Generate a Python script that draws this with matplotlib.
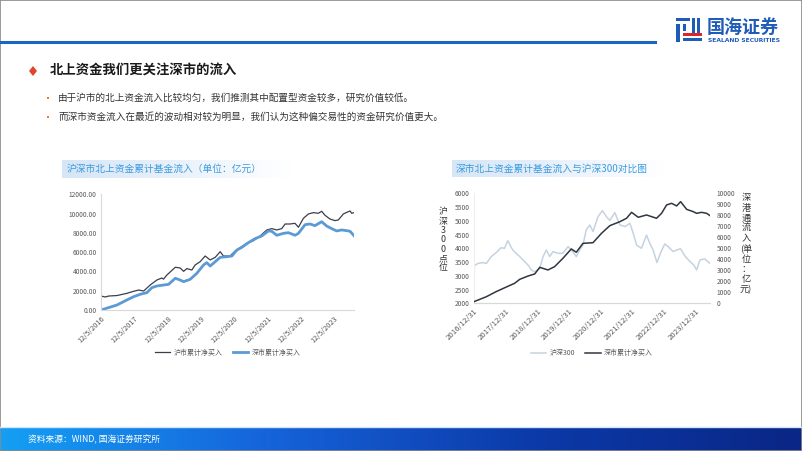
import numpy as np
import pandas as pd
import matplotlib
matplotlib.use("Agg")
import matplotlib.pyplot as plt
from matplotlib.patches import Rectangle, Polygon
from matplotlib.lines import Line2D
from matplotlib.colors import LinearSegmentedColormap

plt.rcParams['font.family'] = ['Noto Sans CJK SC', 'DejaVu Sans']

# ---------------- data: left chart ----------------
sh_dates = ["2016-12-05", "2017-01-20", "2017-02-28", "2017-05-30", "2017-09-15", "2017-11-28",
            "2018-01-22", "2018-03-18", "2018-05-30", "2018-08-10", "2018-10-04", "2018-10-22",
            "2018-11-28", "2019-02-28", "2019-04-23", "2019-05-30", "2019-07-05", "2019-08-29",
            "2019-10-04", "2019-11-28", "2020-01-22", "2020-03-17", "2020-05-11", "2020-07-05",
            "2020-08-10", "2020-10-22", "2020-12-16", "2021-02-09", "2021-04-23", "2021-07-05",
            "2021-09-16", "2021-11-28", "2022-01-22", "2022-03-17", "2022-05-11", "2022-06-17",
            "2022-08-10", "2022-10-04", "2022-11-10", "2023-01-04", "2023-02-28", "2023-04-23",
            "2023-06-17", "2023-07-23", "2023-08-29", "2023-10-22", "2023-12-16", "2024-01-22",
            "2024-03-17", "2024-05-11", "2024-05-30", "2024-06-17", "2024-07-12"]
sh_values = [1450, 1350, 1450, 1500, 1730, 1940, 2070, 1970, 2600, 3110, 3320, 3200,
             3630, 4430, 4360, 4010, 4290, 4150, 4670, 5010, 5600, 5190, 5460, 6050,
             5600, 5600, 6120, 6470, 6920, 7190, 7680, 8300, 8440, 8300, 8440, 8920,
             8920, 8990, 8580, 9510, 9960, 10100, 10030, 10240, 9820, 9440, 9270, 9340,
             9960, 10200, 10270, 10030, 10100]

sz_dates = ["2016-12-05", "2017-05-30", "2017-09-15", "2017-11-28", "2018-02-09", "2018-04-23",
            "2018-06-17", "2018-08-10", "2018-10-22", "2018-12-16", "2019-02-28", "2019-04-23",
            "2019-05-30", "2019-08-10", "2019-10-22", "2020-01-04", "2020-02-09", "2020-03-17",
            "2020-05-11", "2020-07-05", "2020-09-16", "2020-11-10", "2021-01-04", "2021-02-28",
            "2021-05-11", "2021-07-23", "2021-10-04", "2021-12-16", "2022-01-22", "2022-03-17",
            "2022-05-30", "2022-07-23", "2022-10-04", "2022-11-10", "2023-01-22", "2023-03-17",
            "2023-05-11", "2023-07-23", "2023-09-16", "2023-11-10", "2024-01-04", "2024-02-28",
            "2024-04-23", "2024-05-30", "2024-07-12"]
sz_values = [0, 520, 1040, 1380, 1630, 1800, 2320, 2490, 2590, 2660, 3290, 3110,
             2940, 3180, 3800, 4670, 4910, 4560, 5010, 5460, 5530, 5600, 6220, 6500,
             6990, 7400, 7680, 8200, 8160, 7750, 7950, 8020, 7750, 7950, 8850, 8920,
             8750, 9160, 8710, 8440, 8200, 8300, 8230, 8160, 7710]

left_ticks = ["2016-12-05", "2017-12-05", "2018-12-05", "2019-12-05", "2020-12-05",
              "2021-12-05", "2022-12-05", "2023-12-05"]
left_tick_labels = ["12/5/2016", "12/5/2017", "12/5/2018", "12/5/2019", "12/5/2020",
                    "12/5/2021", "12/5/2022", "12/5/2023"]
left_yticks = [0, 2000, 4000, 6000, 8000, 10000, 12000]

# ---------------- data: right chart ----------------
szflow_dates = ["2016-12-31", "2017-05-23", "2017-09-13", "2017-12-31", "2018-04-15", "2018-06-13",
                "2018-09-17", "2018-12-03", "2019-01-31", "2019-05-05", "2019-07-21", "2019-10-25",
                "2020-01-30", "2020-03-28", "2020-06-13", "2020-10-07", "2021-01-13", "2021-04-20",
                "2021-08-14", "2021-10-30", "2021-12-27", "2022-03-14", "2022-06-18", "2022-10-12",
                "2022-12-09", "2023-02-05", "2023-04-04", "2023-06-01", "2023-07-17", "2023-09-25",
                "2023-12-11", "2024-01-18", "2024-03-16", "2024-05-13", "2024-06-21"]
szflow_values = [150, 600, 1060, 1450, 1820, 2180, 2480, 2670, 3270, 3030, 3330, 4090,
                 4940, 4640, 5450, 5510, 6360, 7060, 7420, 7730, 8270, 7820, 8030, 7730,
                 8180, 8940, 9090, 8850, 9240, 8540, 8330, 8180, 8270, 8180, 7970]

hs300_dates = ["2016-12-31", "2017-02-15", "2017-04-12", "2017-05-23", "2017-07-19", "2017-09-13",
               "2017-11-08", "2017-12-19", "2018-01-25", "2018-03-23", "2018-04-30", "2018-06-06",
               "2018-07-20", "2018-09-17", "2018-10-25", "2018-12-03", "2019-01-31", "2019-03-10",
               "2019-04-17", "2019-05-25", "2019-07-02", "2019-08-28", "2019-10-25", "2019-12-24",
               "2020-01-30", "2020-03-28", "2020-05-06", "2020-06-13", "2020-07-21", "2020-08-31",
               "2020-10-07", "2020-12-04", "2021-01-24", "2021-03-11", "2021-04-20", "2021-06-16",
               "2021-08-14", "2021-10-11", "2021-12-07", "2022-01-15", "2022-02-23", "2022-04-20",
               "2022-06-18", "2022-07-26", "2022-09-02", "2022-10-17", "2022-11-25", "2023-01-15",
               "2023-02-23", "2023-04-22", "2023-06-01", "2023-07-17", "2023-09-05", "2023-11-02",
               "2023-12-18", "2024-01-18", "2024-02-26", "2024-04-22", "2024-06-21"]
hs300_values = [3360, 3450, 3480, 3450, 3700, 3840, 4020, 4000, 4280, 3940, 3820, 3720,
                3580, 3390, 3210, 3150, 3270, 3700, 3940, 3700, 3880, 3820, 3820, 4060,
                3940, 3700, 3940, 4120, 4670, 4850, 4610, 5150, 5370, 5150, 5010, 5300,
                4850, 4790, 4910, 4550, 4120, 4000, 4480, 4180, 3940, 3480, 3820, 4160,
                4060, 3880, 3940, 3980, 3720, 3520, 3390, 3210, 3580, 3610, 3450]

right_ticks = ["2016-12-31", "2017-12-31", "2018-12-31", "2019-12-31", "2020-12-31",
               "2021-12-31", "2022-12-31", "2023-12-31"]
right_tick_labels = ["2016/12/31", "2017/12/31", "2018/12/31", "2019/12/31", "2020/12/31",
                     "2021/12/31", "2022/12/31", "2023/12/31"]
right_left_yticks = [2000, 2500, 3000, 3500, 4000, 4500, 5000, 5500, 6000]
right_right_yticks = [0, 1000, 2000, 3000, 4000, 5000, 6000, 7000, 8000, 9000, 10000]

left_ylabel_chars = ["沪", "深", "3", "0", "0", "点", "位"]
right_ylabel_chars = ["深", "港", "通", "流", "入", "(单", "位", "：", "亿", "元)"]

# ---------------- figure ----------------
W, H = 802, 451
fig = plt.figure(figsize=(W / 100, H / 100), dpi=100)
fig.patch.set_facecolor('white')

def fx(x):
    return x / W

def fy(y):
    return 1 - y / H

# header line
fig.add_artist(Line2D([0, fx(655)], [fy(42), fy(42)], color='#1c64c4', lw=2.2,
                      transform=fig.transFigure))

# logo icon (approximation)
logo_blue = '#1f5cb8'
for (x0, y0, w, h, c) in [(676, 18, 14, 3, logo_blue), (676, 24, 4, 18, logo_blue),
                          (692, 18, 3, 15, logo_blue), (697, 18, 3, 15, logo_blue),
                          (683, 33, 19, 3, '#d9262c'), (683, 38, 19, 3, logo_blue),
                          (683, 24, 3, 7, logo_blue)]:
    fig.add_artist(Rectangle((fx(x0), fy(y0 + h)), w / W, h / H, color=c,
                             transform=fig.transFigure, lw=0))
fig.text(fx(707), fy(27), "国海证券", fontsize=13, fontweight='bold', color=logo_blue,
         va='center', ha='left')
fig.text(fx(708), fy(41), "SEALAND SECURITIES", fontsize=4.3, fontweight='bold',
         color=logo_blue, va='center', ha='left', family=['DejaVu Sans'])

# section title
fig.add_artist(Polygon([[fx(29), fy(71)], [fx(33), fy(66)], [fx(37), fy(71)], [fx(33), fy(76)]],
                       closed=True, color='#e0452b', transform=fig.transFigure, lw=0))
fig.text(fx(50), fy(71), "北上资金我们更关注深市的流入", fontsize=9.6, fontweight='bold',
         color='#1a1a1a', va='center', ha='left')

# bullets
bullets = ["由于沪市的北上资金流入比较均匀，我们推测其中配置型资金较多，研究价值较低。",
           "而深市资金流入在最近的波动相对较为明显，我们认为这种偏交易性的资金研究价值更大。"]
for i, b in enumerate(bullets):
    yy = 98 + i * 19
    fig.add_artist(Rectangle((fx(47), fy(yy + 1.2)), 2.4 / W, 2.4 / H, color='#ef7d31',
                             transform=fig.transFigure, lw=0))
    fig.text(fx(58), fy(yy), b, fontsize=6.9, color='#333333', va='center', ha='left')

# title boxes with gradient
grad = np.linspace(0, 1, 256).reshape(1, -1)
box_cmap = LinearSegmentedColormap.from_list('box', ['#d6e6f6', '#e9f1fa', '#ffffff'])

def title_box(x0, x1, y0, y1, text, tx):
    bax = fig.add_axes([fx(x0), fy(y1), (x1 - x0) / W, (y1 - y0) / H])
    bax.imshow(grad, aspect='auto', cmap=box_cmap, extent=[0, 1, 0, 1])
    bax.set_axis_off()
    fig.text(fx(tx), fy((y0 + y1) / 2), text, fontsize=7, color='#3a9be0',
             va='center', ha='left', fontstyle='italic')

title_box(62, 290, 160, 178, "沪深市北上资金累计基金流入（单位：亿元）", 67)
title_box(452, 665, 160, 177, "深市北上资金累计基金流入与沪深300对比图", 456)

tick_col = '#595959'
spine_col = '#d9d9d9'

# ---------------- left chart ----------------
ax1 = fig.add_axes([fx(101), fy(310), (354 - 101) / W, (310 - 194.3) / H])
ax1.plot(pd.to_datetime(sh_dates), sh_values, color='#3b3f4a', lw=0.9, label='沪市累计净买入')
ax1.plot(pd.to_datetime(sz_dates), sz_values, color='#5b9bd5', lw=2.0, label='深市累计净买入')
ax1.set_xlim(pd.Timestamp(sh_dates[0]), pd.Timestamp(sh_dates[-1]))
ax1.set_ylim(0, 12000)
ax1.set_yticks(left_yticks)
ax1.set_yticklabels([f"{v:.2f}" for v in left_yticks])
ax1.set_xticks(pd.to_datetime(left_ticks))
ax1.set_xticklabels(left_tick_labels, rotation=45, ha='right', rotation_mode='anchor')
ax1.tick_params(axis='y', length=0, labelsize=4.8, labelcolor=tick_col, pad=3)
ax1.tick_params(axis='x', length=0, labelsize=5.3, labelcolor=tick_col, pad=3)
for s in ['top', 'right']:
    ax1.spines[s].set_visible(False)
for s in ['left', 'bottom']:
    ax1.spines[s].set_color(spine_col)
    ax1.spines[s].set_linewidth(0.8)
ax1.patch.set_alpha(0)
leg1 = ax1.legend(loc='upper center', bbox_to_anchor=(0.5, -0.28), ncol=2, frameon=False,
                  fontsize=5, handlelength=2.2, columnspacing=1.5, handletextpad=0.5)
for t in leg1.get_texts():
    t.set_color(tick_col)

# ---------------- right chart ----------------
ax2 = fig.add_axes([fx(474), fy(303.3), (710 - 474) / W, (303.3 - 193.3) / H])
ax3 = ax2.twinx()
l1, = ax2.plot(pd.to_datetime(hs300_dates), hs300_values, color='#c5d3e1', lw=1.1, label='沪深300')
l2, = ax3.plot(pd.to_datetime(szflow_dates), szflow_values, color='#2f3541', lw=1.1,
               label='深市累计净买入')
ax2.set_xlim(pd.Timestamp(hs300_dates[0]), pd.Timestamp(hs300_dates[-1]))
ax2.set_ylim(2000, 6000)
ax3.set_ylim(0, 10000)
ax2.set_yticks(right_left_yticks)
ax3.set_yticks(right_right_yticks)
ax2.set_xticks(pd.to_datetime(right_ticks))
ax2.set_xticklabels(right_tick_labels, rotation=45, ha='right', rotation_mode='anchor')
ax2.tick_params(axis='y', length=0, labelsize=4.8, labelcolor=tick_col, pad=3)
ax2.tick_params(axis='x', length=0, labelsize=5.6, labelcolor=tick_col, pad=3)
ax3.tick_params(axis='y', length=0, labelsize=4.8, labelcolor=tick_col, pad=5)
for a in (ax2, ax3):
    for s in ['top', 'right', 'left']:
        a.spines[s].set_visible(False)
    a.spines['bottom'].set_color(spine_col)
    a.spines['bottom'].set_linewidth(0.8)
ax2.spines['left'].set_visible(True)
ax2.spines['left'].set_color('#eeeeee')
leg2 = ax2.legend(handles=[l1, l2], loc='upper center', bbox_to_anchor=(0.5, -0.36), ncol=2,
                  frameon=False, fontsize=5, handlelength=2.2, columnspacing=1.5,
                  handletextpad=0.5)
for t in leg2.get_texts():
    t.set_color(tick_col)

# stacked (vertical) axis titles, one character per line
for i, ch in enumerate(left_ylabel_chars):
    fig.text(fx(443), fy(212 + i * 9.3), ch, fontsize=6.4, color='#333333',
             ha='center', va='center')
for i, ch in enumerate(right_ylabel_chars):
    fig.text(fx(746), fy(198 + i * 10.2), ch, fontsize=6.6, color='#333333',
             ha='center', va='center')

# ---------------- footer ----------------
fig.add_artist(Line2D([0, 1], [fy(427), fy(427)], color='#cfe6fa', lw=1.0,
                      transform=fig.transFigure))
fax = fig.add_axes([0, 0, 1, (451 - 428) / H])
foot_cmap = LinearSegmentedColormap.from_list('foot', ['#149ff4', '#1663da', '#0c3aa8', '#0a2686'])
fax.imshow(grad, aspect='auto', cmap=foot_cmap, extent=[0, 1, 0, 1])
fax.set_axis_off()
fig.text(fx(28), fy(439.5), "资料来源：WIND, 国海证券研究所", fontsize=6.3, color='white',
         va='center', ha='left')

# frame border
fig.add_artist(Rectangle((0, 0), 1, 1, fill=False, edgecolor='#8a8a8a', lw=1.2,
                         transform=fig.transFigure))

fig.savefig("out.png", dpi=100)
